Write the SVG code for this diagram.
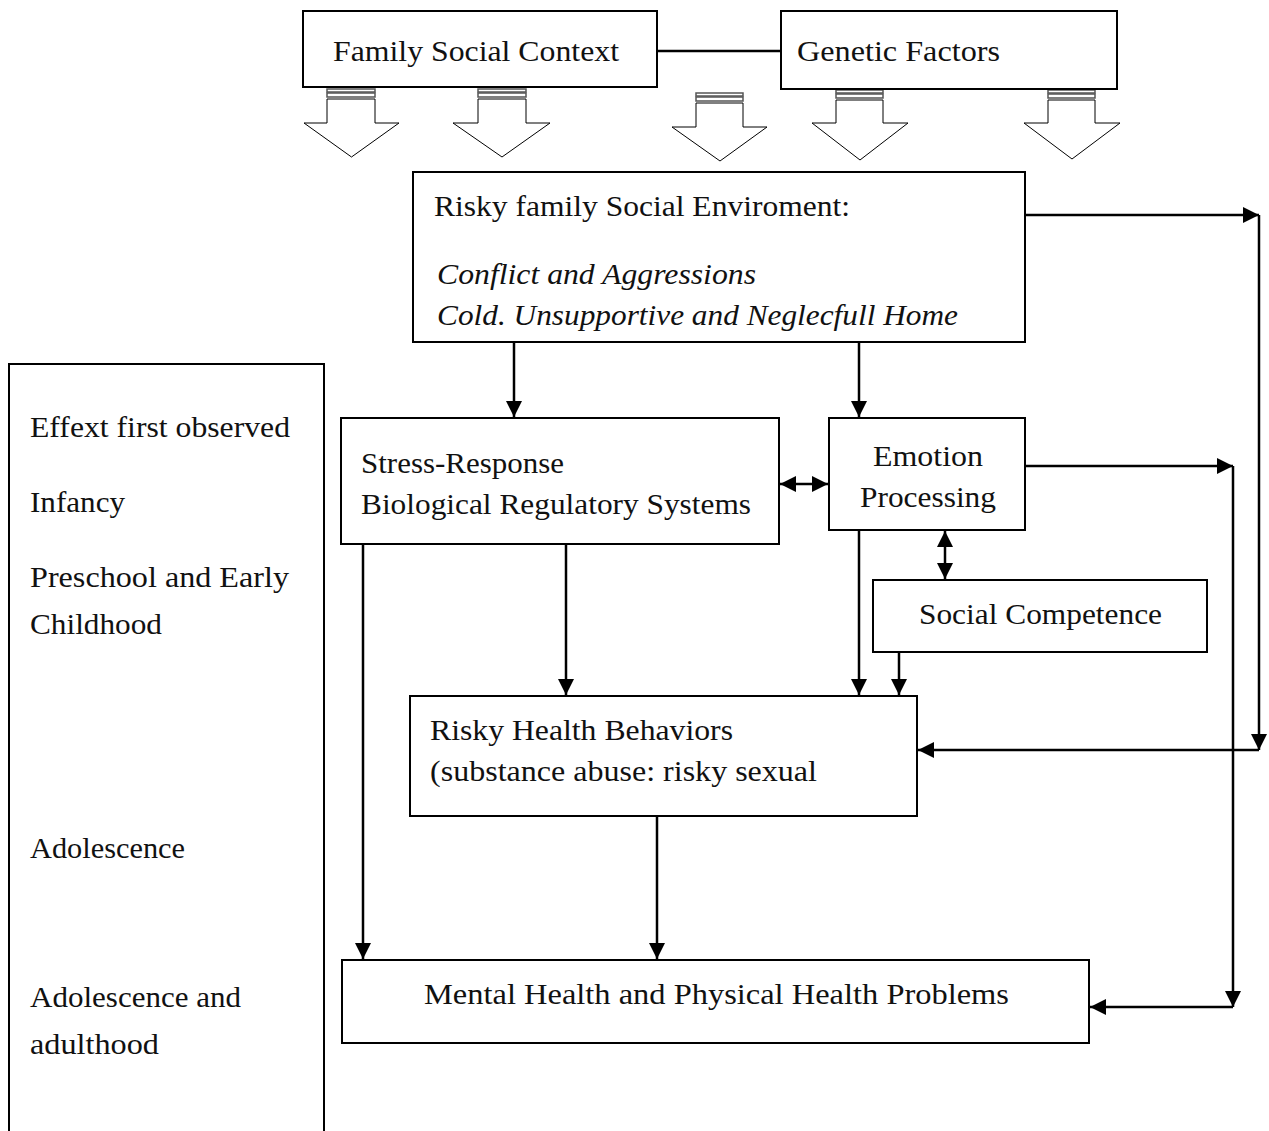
<svg xmlns="http://www.w3.org/2000/svg" width="1269" height="1131" viewBox="0 0 1269 1131">
<style>
.box{fill:#fff;stroke:#000;stroke-width:2}
.ln{fill:none;stroke:#000;stroke-width:2.5}
.ba{fill:#fff;stroke:#000;stroke-width:1}
.st{fill:#fff;stroke:#555;stroke-width:1.5}
text{font-family:"Liberation Serif","DejaVu Serif",serif;font-size:29px;fill:#111}
.it{font-style:italic}
.c{text-anchor:middle}
</style>
<defs>
<marker id="ah" viewBox="0 0 10 10" refX="10" refY="5" markerWidth="6.5" markerHeight="6.5" markerUnits="strokeWidth" orient="auto-start-reverse">
<path d="M0,0 L10,5 L0,10 z" fill="#000"/>
</marker>
</defs>
<rect width="1269" height="1131" fill="#fff"/>

<g id="blockarrows">
<g id="ba1">
<rect class="st" x="327" y="89" width="48" height="3"/><rect class="st" x="327" y="93" width="48" height="4"/>
<path class="ba" d="M327,99 H375 V123 H399 L351.5,157 L304,123 H327 Z"/>
</g>
<g id="ba2">
<rect class="st" x="478" y="89" width="48" height="3"/><rect class="st" x="478" y="93" width="48" height="4"/>
<path class="ba" d="M478,99 H526 V123 H550 L502,157 L453,123 H478 Z"/>
</g>
<g id="ba3">
<rect class="st" x="696" y="93" width="47" height="3"/><rect class="st" x="696" y="97" width="47" height="4"/>
<path class="ba" d="M696,103 H743 V127 H767 L720,161 L672,127 H696 Z"/>
</g>
<g id="ba4">
<rect class="st" x="836" y="90" width="47" height="3"/><rect class="st" x="836" y="94" width="47" height="4"/>
<path class="ba" d="M836,100 H883 V123 H908 L860,160 L812,123 H836 Z"/>
</g>
<g id="ba5">
<rect class="st" x="1048" y="90" width="47" height="3"/><rect class="st" x="1048" y="94" width="47" height="4"/>
<path class="ba" d="M1048,100 H1095 V123 H1120 L1072,159 L1024,123 H1048 Z"/>
</g>
</g>

<g id="connectors">
<line class="ln" x1="657" y1="51" x2="781" y2="51"/>
<line class="ln" x1="514" y1="342" x2="514" y2="417" marker-end="url(#ah)"/>
<line class="ln" x1="859" y1="342" x2="859" y2="417" marker-end="url(#ah)"/>
<line class="ln" x1="780" y1="484" x2="828" y2="484" marker-start="url(#ah)" marker-end="url(#ah)"/>
<line class="ln" x1="945" y1="531" x2="945" y2="579" marker-start="url(#ah)" marker-end="url(#ah)"/>
<line class="ln" x1="363" y1="544" x2="363" y2="959" marker-end="url(#ah)"/>
<line class="ln" x1="566" y1="544" x2="566" y2="695" marker-end="url(#ah)"/>
<line class="ln" x1="859" y1="530" x2="859" y2="695" marker-end="url(#ah)"/>
<line class="ln" x1="899" y1="652" x2="899" y2="695" marker-end="url(#ah)"/>
<line class="ln" x1="657" y1="816" x2="657" y2="959" marker-end="url(#ah)"/>
<line class="ln" x1="1025" y1="215" x2="1259" y2="215" marker-end="url(#ah)"/>
<line class="ln" x1="1259" y1="215" x2="1259" y2="750" marker-end="url(#ah)"/>
<line class="ln" x1="1259" y1="750" x2="918" y2="750" marker-end="url(#ah)"/>
<line class="ln" x1="1025" y1="466" x2="1233" y2="466" marker-end="url(#ah)"/>
<line class="ln" x1="1233" y1="466" x2="1233" y2="1007" marker-end="url(#ah)"/>
<line class="ln" x1="1233" y1="1007" x2="1090" y2="1007" marker-end="url(#ah)"/>
</g>

<g id="family">
<rect class="box" x="303" y="11" width="354" height="76"/>
<text x="333" y="61" textLength="286" lengthAdjust="spacingAndGlyphs">Family Social Context</text>
</g>
<g id="genetic">
<rect class="box" x="781" y="11" width="336" height="78"/>
<text x="797" y="61" textLength="203" lengthAdjust="spacingAndGlyphs">Genetic Factors</text>
</g>
<g id="risky-env">
<rect class="box" x="413" y="172" width="612" height="170"/>
<text x="434" y="216" textLength="416" lengthAdjust="spacingAndGlyphs">Risky family Social Enviroment:</text>
<text class="it" x="437" y="284" textLength="319" lengthAdjust="spacingAndGlyphs">Conflict and Aggressions</text>
<text class="it" x="437" y="325" textLength="521" lengthAdjust="spacingAndGlyphs">Cold. Unsupportive and Neglecfull Home</text>
</g>
<g id="timeline">
<path class="box" d="M9,1135 V364 H324 V1135"/>
<text x="30" y="437" textLength="260" lengthAdjust="spacingAndGlyphs">Effext first observed</text>
<text x="30" y="512" textLength="95" lengthAdjust="spacingAndGlyphs">Infancy</text>
<text x="30" y="587" textLength="259" lengthAdjust="spacingAndGlyphs">Preschool and Early</text>
<text x="30" y="634" textLength="132" lengthAdjust="spacingAndGlyphs">Childhood</text>
<text x="30" y="858" textLength="155" lengthAdjust="spacingAndGlyphs">Adolescence</text>
<text x="30" y="1007" textLength="211" lengthAdjust="spacingAndGlyphs">Adolescence and</text>
<text x="30" y="1054" textLength="129" lengthAdjust="spacingAndGlyphs">adulthood</text>
</g>
<g id="stress">
<rect class="box" x="341" y="418" width="438" height="126"/>
<text x="361" y="473" textLength="203" lengthAdjust="spacingAndGlyphs">Stress-Response</text>
<text x="361" y="514" textLength="390" lengthAdjust="spacingAndGlyphs">Biological Regulatory Systems</text>
</g>
<g id="emotion">
<rect class="box" x="829" y="418" width="196" height="112"/>
<text x="873" y="466" textLength="110" lengthAdjust="spacingAndGlyphs">Emotion</text>
<text x="860" y="507" textLength="136" lengthAdjust="spacingAndGlyphs">Processing</text>
</g>
<g id="social">
<rect class="box" x="873" y="580" width="334" height="72"/>
<text x="919" y="624" textLength="243" lengthAdjust="spacingAndGlyphs">Social Competence</text>
</g>
<g id="risky-health">
<rect class="box" x="410" y="696" width="507" height="120"/>
<text x="430" y="740" textLength="303" lengthAdjust="spacingAndGlyphs">Risky Health Behaviors</text>
<text x="430" y="781" textLength="387" lengthAdjust="spacingAndGlyphs">(substance abuse: risky sexual</text>
</g>
<g id="mental">
<rect class="box" x="342" y="960" width="747" height="83"/>
<text x="424" y="1004" textLength="585" lengthAdjust="spacingAndGlyphs">Mental Health and Physical Health Problems</text>
</g>
</svg>
